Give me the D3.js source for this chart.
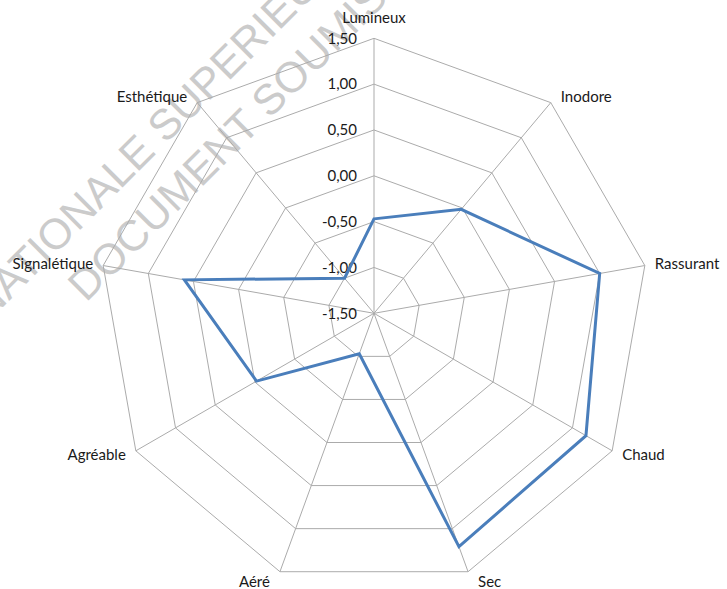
<!DOCTYPE html>
<html lang="fr">
<head>
<meta charset="utf-8">
<title>Radar</title>
<script src="https://cdn.jsdelivr.net/npm/d3@7"></script>
<style>
  body { margin: 0; background: #fff; }
  .lbl { font-family: Lato, "Open Sans", sans-serif; font-size: 15px; fill: #1a1a1a; }
  .wm { font-family: "Liberation Sans", Arial, sans-serif; font-size: 43px; fill: #cbcbcb; }
</style>
</head>
<body>
<div id="chart"></div>
<script>
// axes of the radar, clockwise from top
var categories = ["Lumineux", "Inodore", "Rassurant", "Chaud", "Sec", "Aéré", "Agréable", "Signalétique", "Esthétique"]
var values = [-0.47, -0.02, 1.00, 1.17, 1.21, -1.03, -0.02, 0.60, -1.00]
var ticks = [-1.5, -1.0, -0.5, 0.0, 0.5, 1.0, 1.5]
var watermark = ["ECOLE N", "ATIONALE SUPERIEURE", "DOCUMENT SOUMIS AU DROIT D'AUTEUR"]

var w = 727, h = 589
var cx = 374, cy = 313.3
var R = 275

var svg = d3.select("#chart").append("svg")
    .attr("width", w)
    .attr("height", h)

var rScale = d3.scaleLinear().domain([-1.5, 1.5]).range([0, R])
var aScale = d3.scaleLinear().domain([0, categories.length]).range([0, 2 * Math.PI])

function pt(i, v) {
  var a = aScale(i), r = rScale(v)
  return [cx + r * Math.sin(a), cy - r * Math.cos(a)]
}

// watermark (behind chart)
var wm = svg.append("g")
wm.append("text").attr("class", "wm")
  .attr("transform", "translate(9,301) rotate(-45)")
  .attr("text-anchor", "end")
  .text(watermark[0])
wm.append("text").attr("class", "wm")
  .attr("transform", "translate(9,301) rotate(-45)")
  .text(watermark[1])
wm.append("text").attr("class", "wm")
  .attr("transform", "translate(86,303) rotate(-45)")
  .text(watermark[2])

// grid rings
var grid = svg.append("g")
ticks.slice(1).forEach(function(t) {
  grid.append("polygon")
    .attr("points", categories.map(function(c, i) { return pt(i, t).join(",") }).join(" "))
    .attr("fill", "none")
    .attr("stroke", "#ababab")
    .attr("stroke-width", 1)
})
// spokes
categories.forEach(function(c, i) {
  var p = pt(i, 1.5)
  grid.append("line")
    .attr("x1", cx).attr("y1", cy)
    .attr("x2", p[0]).attr("y2", p[1])
    .attr("stroke", "#ababab")
    .attr("stroke-width", 1)
})

// tick labels along the top spoke
var fmt = function(d) { return d3.format(".2f")(d).replace(".", ",").replace("−", "-") }
svg.append("g").selectAll("text")
  .data(ticks).enter().append("text")
  .attr("class", "lbl")
  .attr("x", cx - 17)
  .attr("y", function(d) { return cy - rScale(d) })
  .attr("dy", "0.35em")
  .attr("text-anchor", "end")
  .text(fmt)

// category labels
svg.append("g").selectAll("text")
  .data(categories).enter().append("text")
  .attr("class", "lbl")
  .each(function(d, i) {
    var a = aScale(i), s = Math.sin(a), c = Math.cos(a)
    var p = pt(i, 1.5)
    var anchor = s > 0.1 ? "start" : (s < -0.1 ? "end" : "middle")
    var x = p[0] + (anchor == "start" ? 10 : anchor == "end" ? -10 : 0)
    var y = anchor == "middle" ? p[1] - 21 : p[1] - c * (c < -0.9 ? 11 : 8)
    d3.select(this)
      .attr("x", x).attr("y", y)
      .attr("dy", "0.35em")
      .attr("text-anchor", anchor)
      .text(d)
  })

// data line
var line = d3.line().curve(d3.curveLinearClosed)
svg.append("path")
  .datum(values.map(function(v, i) { return pt(i, v) }))
  .attr("d", line)
  .attr("fill", "none")
  .attr("stroke", "#4a7ebb")
  .attr("stroke-width", 3)
  .attr("stroke-linejoin", "miter")
</script>
</body>
</html>
